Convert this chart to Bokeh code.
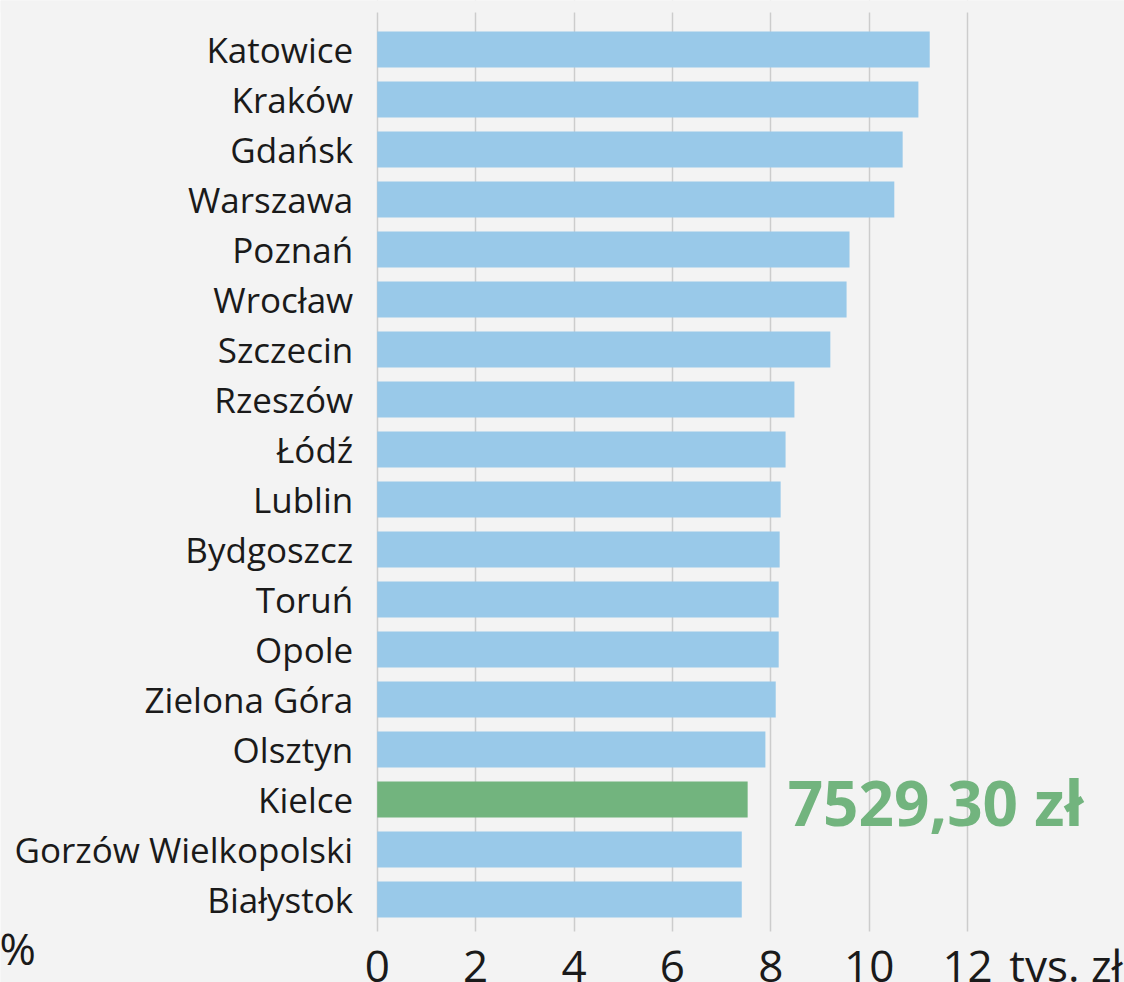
from bokeh.plotting import figure
from bokeh.models import ColumnDataSource, Range1d, FixedTicker, Label, BoxAnnotation
from bokeh.core.properties import value
from bokeh.embed import file_html
from bokeh.resources import INLINE

# ---- data ----
cities = ["Katowice", "Kraków", "Gdańsk", "Warszawa", "Poznań", "Wrocław",
          "Szczecin", "Rzeszów", "Łódź", "Lublin", "Bydgoszcz", "Toruń",
          "Opole", "Zielona Góra", "Olsztyn", "Kielce", "Gorzów Wielkopolski",
          "Białystok"]
salary_k = [11.23, 11.00, 10.68, 10.51, 9.60, 9.54,
            9.21, 8.48, 8.30, 8.20, 8.18, 8.16,
            8.16, 8.10, 7.89, 7.5293, 7.41,
            7.41]
highlight_city = "Kielce"
x_ticks = [0, 2, 4, 6, 8, 10, 12, 14]
x_unit_label = "tys. zł"
grid_ticks = [0, 2, 4, 6, 8, 10, 12]
stray_text = "%"

BLUE = "#99c9e9"
GREEN = "#72b47e"
BG = "#f3f3f3"
TXT = "#1a1a1a"
FONT = "Open Sans"

# layout (view) constants
X_START, X_END = -7.657, 15.189        # whole canvas width as data range
Y_TOP, Y_BOTTOM = -0.98, 18.66         # whole canvas height as data range
AX_Y = 17.64                           # where the x-axis / grid ends
GRID_TOP = -0.74                       # where the grid starts

idx = list(range(len(cities)))
colors = [GREEN if c == highlight_city else BLUE for c in cities]
src = ColumnDataSource(dict(y=idx, v=salary_k, c=colors, name=cities))

p = figure(width=1124, height=982, output_backend="svg", toolbar_location=None,
           x_range=Range1d(X_START, X_END), y_range=Range1d(Y_BOTTOM, Y_TOP),
           min_border_left=0, min_border_right=0, min_border_top=0,
           min_border_bottom=0)
p.background_fill_color = BG
p.border_fill_color = BG
p.outline_line_color = None

p.xgrid.ticker = FixedTicker(ticks=grid_ticks)
p.xgrid.grid_line_color = "#cccccc"
p.xgrid.grid_line_width = 1.5
p.ygrid.grid_line_color = None

# masks limiting the grid lines to the plotting band
p.add_layout(BoxAnnotation(top=AX_Y, bottom=Y_BOTTOM + 1, fill_color=BG,
                           fill_alpha=1, line_color=None, level="underlay"))
p.add_layout(BoxAnnotation(top=Y_TOP - 1, bottom=GRID_TOP, fill_color=BG,
                           fill_alpha=1, line_color=None, level="underlay"))

p.hbar(y="y", right="v", left=0, height=0.72, fill_color="c", line_color=None,
       source=src)

# highlight label
hi = cities.index(highlight_city)
hv = salary_k[hi]
lab_txt = f"{hv * 1000:.2f}".replace(".", ",") + " zł"
p.text(x=[hv], y=[hi], text=[lab_txt], x_offset=40, y_offset=2,
       text_baseline="alphabetic", text_align="left",
       text_font=value(FONT), text_font_style="bold", text_font_size="62px",
       text_color=GREEN)

# axes
xa = p.xaxis[0]
xa.fixed_location = AX_Y
xa.ticker = FixedTicker(ticks=x_ticks)
xa.major_label_overrides = {14: x_unit_label}
xa.axis_line_color = None
xa.major_tick_line_color = None
xa.minor_tick_line_color = None
xa.major_tick_out = 0
xa.major_tick_in = 0
xa.major_label_standoff = 3
xa.major_label_text_font = FONT
xa.major_label_text_font_size = "44px"
xa.major_label_text_color = TXT

ya = p.yaxis[0]
ya.fixed_location = 0
ya.ticker = FixedTicker(ticks=idx)
ya.major_label_overrides = {i: c for i, c in enumerate(cities)}
ya.axis_line_color = None
ya.major_tick_line_color = None
ya.minor_tick_line_color = None
ya.major_tick_out = 0
ya.major_tick_in = 0
ya.major_label_standoff = 24
ya.major_label_text_font = FONT
ya.major_label_text_font_size = "35px"
ya.major_label_text_color = TXT

p.add_layout(Label(x=X_START - 0.02, y=17.96, text=stray_text, text_font=FONT,
                   text_font_size="44px", text_color=TXT,
                   text_baseline="alphabetic"))

html = file_html(p, INLINE, title="Wynagrodzenia")
open("out.html", "w").write(html)
